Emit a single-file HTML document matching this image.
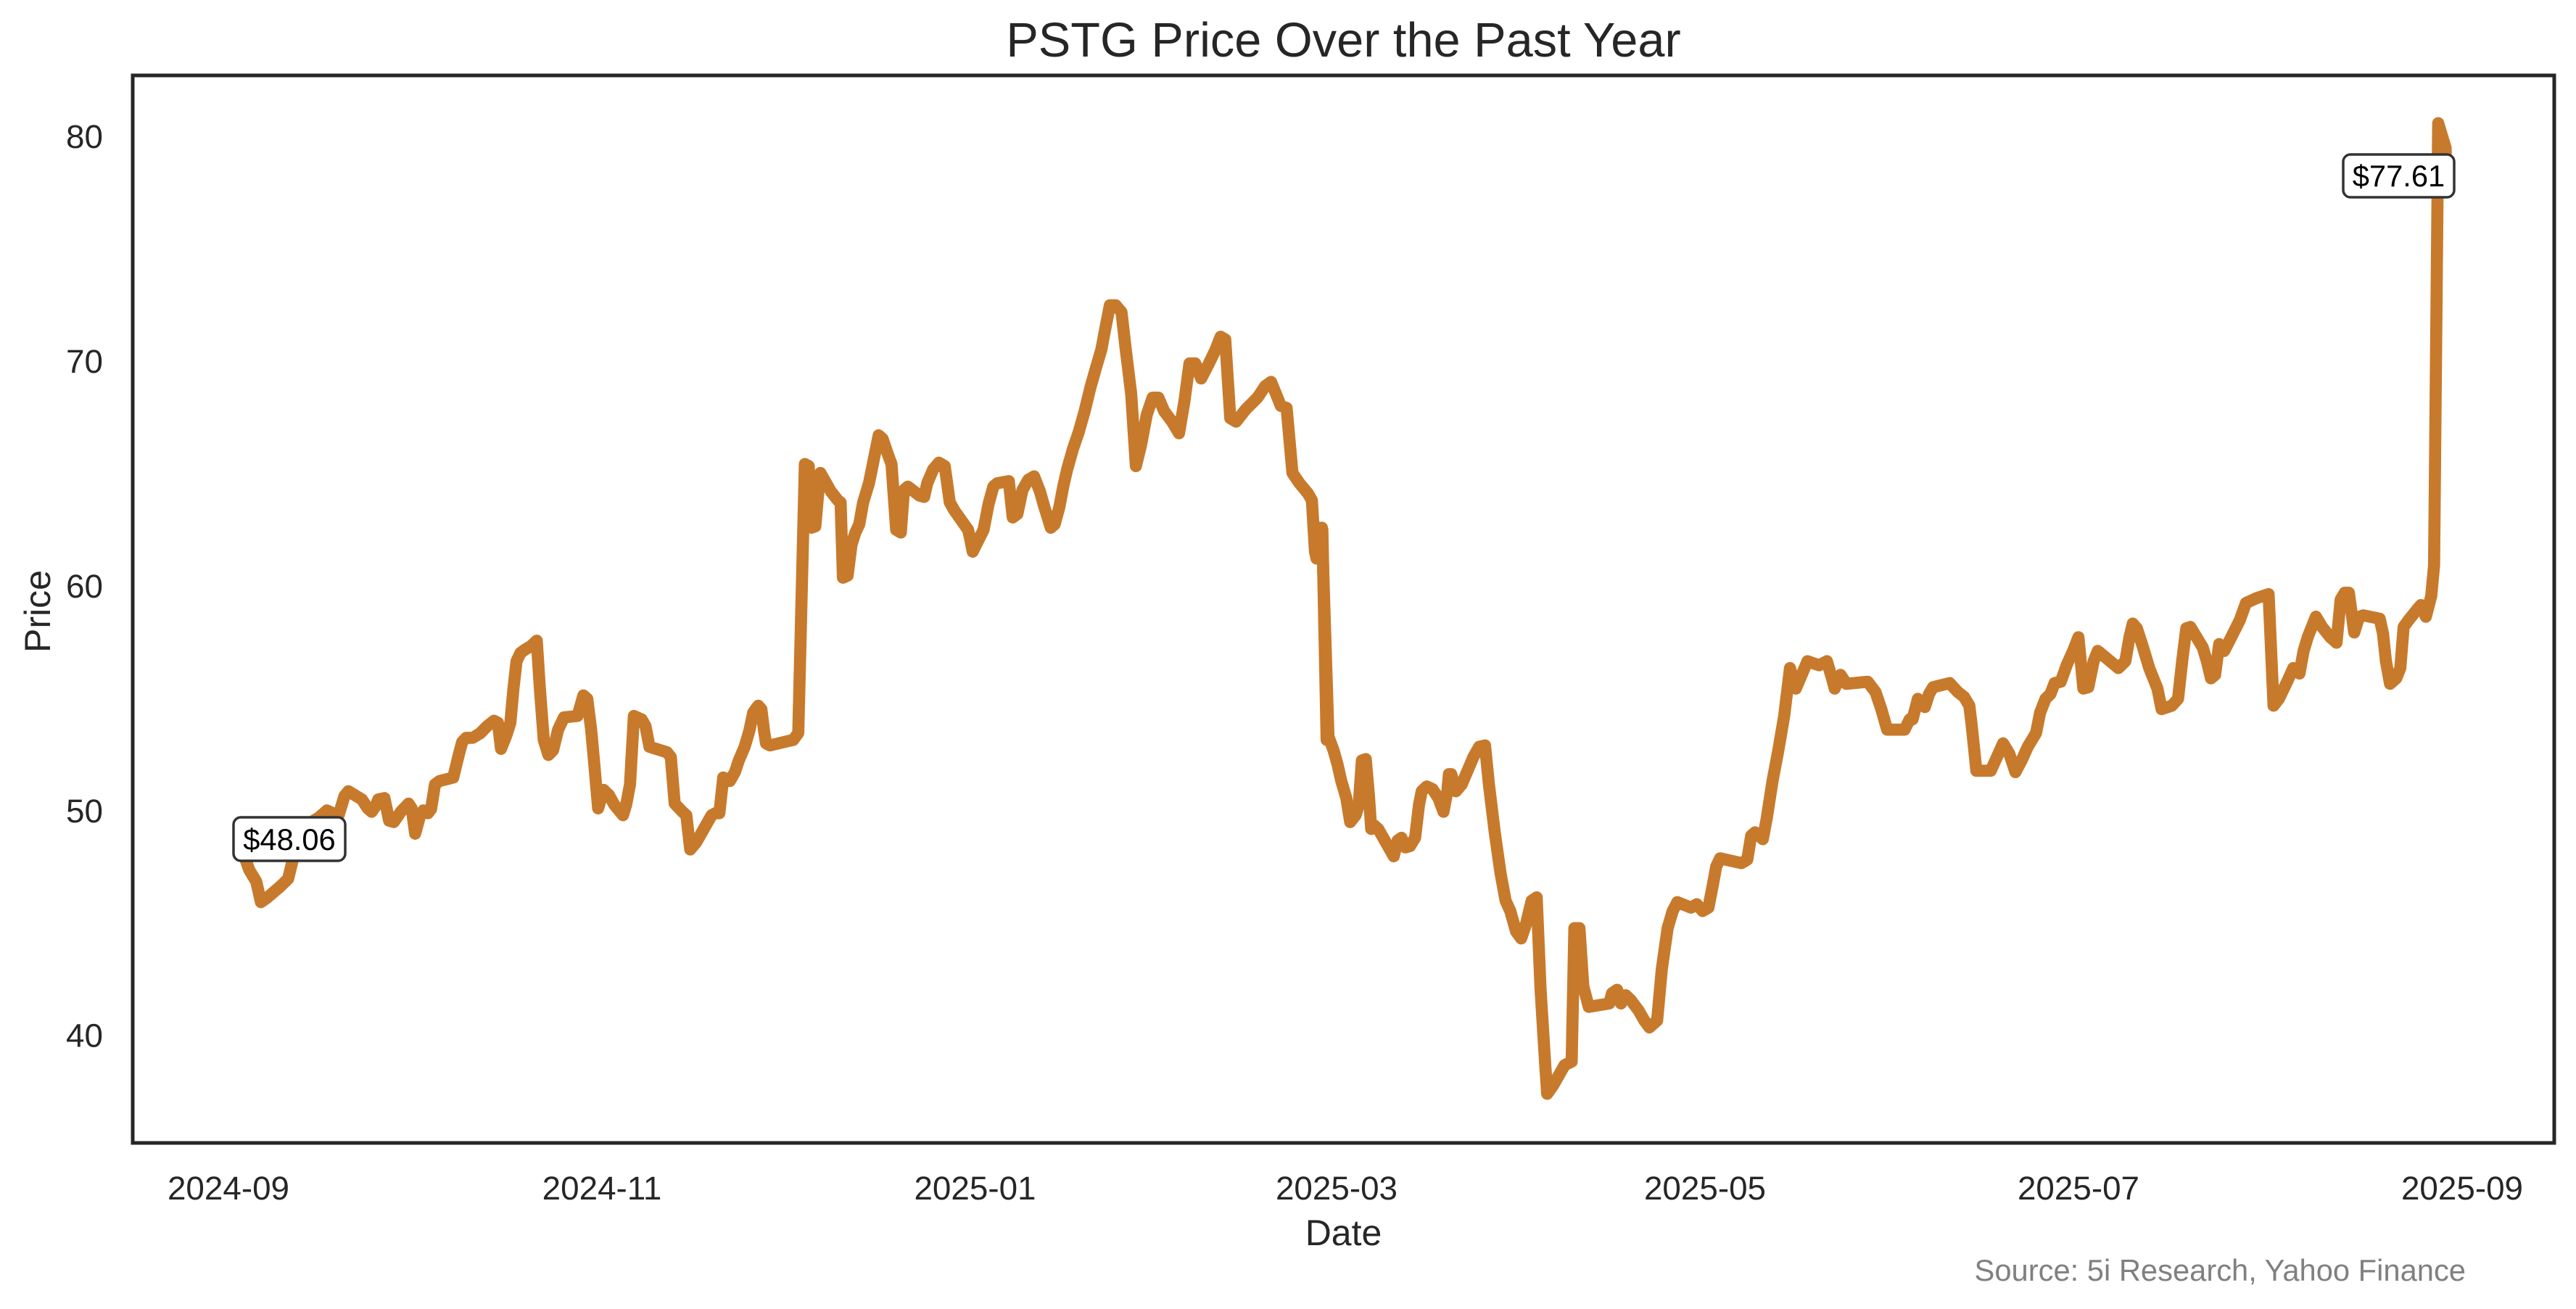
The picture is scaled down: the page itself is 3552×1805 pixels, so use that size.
<!DOCTYPE html>
<html>
<head>
<meta charset="utf-8">
<style>
  html, body { margin: 0; padding: 0; background: #ffffff; }
  svg { display: block; }
</style>
</head>
<body>
<svg xmlns="http://www.w3.org/2000/svg" width="3552" height="1805" viewBox="0 0 3552 1805" font-family="'Liberation Sans', Arial, sans-serif">
  <rect x="0" y="0" width="3552" height="1805" fill="#ffffff"/>

  <!-- Price line -->
  <g fill="none" stroke="#C77A2C" stroke-width="16.7" stroke-linejoin="round" stroke-linecap="round">
    <polyline vector-effect="non-scaling-stroke" transform="translate(183,100) scale(0.53571,0.94388)"
      points="285,1141 300,1165 318,1182 330,1212 345,1206 378,1190 400,1178 412,1150 425,1130 440,1110 460,1095 480,1088 500,1078 515,1082 530,1085 545,1057 555,1050 590,1062 605,1075 615,1080 625,1072 632,1062 648,1060 660,1093 672,1095 690,1080 710,1068 718,1075 727,1112 740,1085 748,1078 760,1082 768,1076 778,1040 790,1035 825,1030 840,995 848,978 858,972 875,972 895,965 912,955 930,947 940,950 948,988 962,968 972,950 980,900 988,860 998,848 1010,843 1025,838 1040,830 1048,900 1058,975 1070,997 1082,990 1095,960 1110,942 1145,940 1160,910 1170,915 1180,960 1188,1010 1198,1075 1212,1048 1225,1055 1240,1070 1262,1085 1270,1070 1280,1040 1290,940 1310,945 1320,955 1330,985 1375,993 1385,1000 1395,1068 1415,1080 1425,1085 1435,1135 1450,1125 1470,1105 1490,1085 1500,1082 1510,1082 1520,1030"/>
    <polyline vector-effect="non-scaling-stroke" transform="translate(1000,100) scale(0.53571,0.94388)"
      points="-5,1030 12,1035 25,1022 35,1005 50,985 62,962 72,935 85,925 93,930 100,962 105,980 115,983 160,977 175,975 188,965 205,572 215,575 222,665 232,663 240,610 245,585 258,598 272,612 290,625 297,628 303,738 315,735 325,690 335,672 345,660 355,628 370,600 385,558 395,530 405,535 420,560 428,572 440,668 452,672 460,610 470,605 500,618 512,620 520,600 535,580 550,570 565,575 578,628 590,640 605,652 625,668 630,680 637,700 650,685 665,668 678,630 690,605 700,600 730,597 740,650 752,645 765,610 780,595 795,590 810,612 820,632 838,665 848,660 860,635 870,605 880,580 895,550 910,525 925,495 940,460 955,430 968,405 978,375 990,340 1005,340 1020,350 1030,400 1045,470 1057,575 1070,545 1085,500 1100,475 1115,475 1130,495 1150,510 1168,527 1182,480 1195,425 1210,425 1225,447 1245,425 1262,405 1275,386 1287,390 1300,505 1315,510 1340,492 1370,475 1390,458 1405,452 1418,470 1430,487 1445,490 1460,585 1478,600 1500,615 1510,625 1518,700 1522,710 1532,665 1537,668 1548,975"/>
    <polyline vector-effect="non-scaling-stroke" transform="translate(1820,100) scale(0.53571,0.94388)"
      points="5,665 22,970 35,990 45,1010 55,1035 68,1060 78,1095 92,1085 100,1070 108,1005 118,1003 126,1055 132,1105 140,1100 150,1105 165,1120 178,1133 190,1145 200,1122 210,1118 220,1132 232,1130 245,1118 255,1070 262,1050 275,1043 290,1047 305,1060 318,1080 328,1050 332,1025 338,1025 350,1050 365,1040 380,1020 395,1000 410,985 425,983 435,1040 450,1110 465,1170 478,1210 490,1225 505,1255 518,1265 530,1245 545,1210 558,1205 568,1340 580,1450 585,1492 600,1480 615,1465 630,1450 648,1445 655,1250 668,1250 678,1335 692,1365 745,1360 752,1345 765,1340 775,1360 787,1348 800,1355 820,1370 835,1385 848,1395 868,1385 880,1310 895,1250 908,1225 920,1212 955,1220 970,1215 985,1225 1000,1220 1012,1185 1020,1160 1030,1148 1085,1155 1100,1150 1110,1115 1120,1110 1140,1120 1150,1090 1165,1035 1180,990 1195,940 1210,870 1225,900 1240,880 1255,860 1285,866 1305,860 1318,885 1325,900 1340,880 1355,893 1410,890 1430,905 1445,930 1460,960 1505,960 1518,945"/>
    <polyline vector-effect="non-scaling-stroke" transform="translate(2640,100) scale(0.56760,0.94388)"
      points="-5,945 8,915 25,927 35,908 45,898 85,892 105,905 120,912 133,925 138,950 145,990 150,1020 185,1020 200,1000 215,980 230,995 245,1022 260,1005 275,985 295,965 305,935 318,915 330,908 340,892 355,890 370,865 385,845 398,825 410,900 422,898 435,860 445,845 495,870 512,860 522,825 530,805 540,812 555,840 570,870 590,900 600,930 625,925 640,915 650,860 660,812 670,810 685,825 700,840 710,860 720,885 730,880 740,835 752,845 765,830 790,800 805,775 830,768 845,765 860,762 865,830 872,925 885,915 905,890 920,870 935,878 945,845 955,825 965,810 975,795 990,810 1010,825 1025,833 1035,770 1045,760 1055,760 1068,818 1080,795 1090,793 1130,798 1138,820 1145,860 1155,893 1170,885 1180,870 1188,810 1200,800 1220,785 1230,778 1242,795 1255,765 1262,720 1272,74 1290,110 1292,160"/>
  </g>

  <!-- Axes frame -->
  <rect x="183" y="104" width="3339" height="1472" fill="none" stroke="#262626" stroke-width="5"/>

  <!-- Title -->
  <text x="1852.5" y="78" font-size="66.7" fill="#262626" text-anchor="middle">PSTG Price Over the Past Year</text>

  <!-- Y tick labels -->
  <g font-size="45.8" fill="#262626" text-anchor="end">
    <text x="142" y="204">80</text>
    <text x="142" y="514">70</text>
    <text x="142" y="824">60</text>
    <text x="142" y="1134">50</text>
    <text x="142" y="1443.5">40</text>
  </g>

  <!-- X tick labels -->
  <g font-size="45.8" fill="#262626" text-anchor="middle">
    <text x="315" y="1654">2024-09</text>
    <text x="830" y="1654">2024-11</text>
    <text x="1344.5" y="1654">2025-01</text>
    <text x="1843" y="1654">2025-03</text>
    <text x="2351" y="1654">2025-05</text>
    <text x="2866" y="1654">2025-07</text>
    <text x="3395" y="1654">2025-09</text>
  </g>

  <!-- Axis labels -->
  <text x="1852.5" y="1717" font-size="50" fill="#262626" text-anchor="middle">Date</text>
  <text transform="translate(69,843) rotate(-90)" font-size="50" fill="#262626" text-anchor="middle">Price</text>

  <!-- Source -->
  <text x="3400" y="1766" font-size="41.7" fill="#808080" text-anchor="end">Source: 5i Research, Yahoo Finance</text>

  <!-- Annotations -->
  <rect x="322" y="1127" width="154" height="60" rx="10" ry="10" fill="#ffffff" stroke="#333333" stroke-width="3.5"/>
  <text x="399" y="1172" font-size="41.7" fill="#000000" text-anchor="middle">$48.06</text>

  <rect x="3231" y="213" width="153" height="59" rx="10" ry="10" fill="#ffffff" stroke="#333333" stroke-width="3.5"/>
  <text x="3307.5" y="257" font-size="41.7" fill="#000000" text-anchor="middle">$77.61</text>
</svg>
</body>
</html>
